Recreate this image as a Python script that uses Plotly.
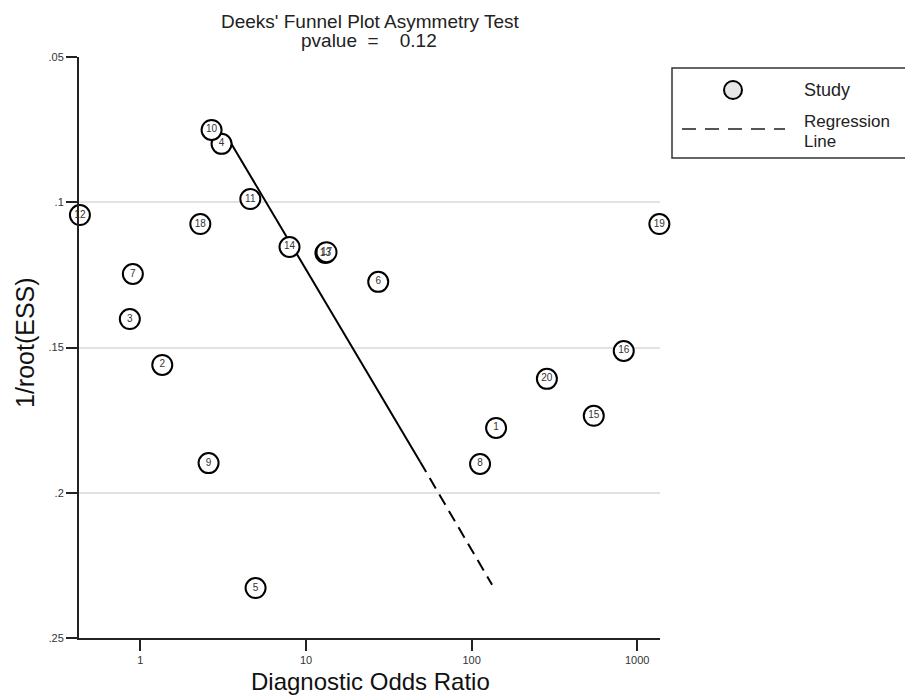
import plotly.graph_objects as go

# ---- data ----
study_ids = ["1", "2", "3", "4", "5", "6", "7", "8", "9", "10",
             "11", "12", "13", "14", "15", "16", "17", "18", "19", "20"]
dor = [140.6, 1.355, 0.863, 3.09, 4.96, 27.3, 0.90, 112.5, 2.58, 2.69,
       4.61, 0.431, 13.1, 7.95, 547, 830, 13.3, 2.30, 1362, 285]
inv_root_ess = [0.1777, 0.1560, 0.1402, 0.0799, 0.2328, 0.1274, 0.1247, 0.1901, 0.1898, 0.0751,
                0.0989, 0.1044, 0.1175, 0.1154, 0.1735, 0.1512, 0.1172, 0.1075, 0.1075, 0.1608]

reg_solid_x = [3.46, 48.9]
reg_solid_y = [0.0789, 0.1893]
reg_dash_x = [48.9, 133]
reg_dash_y = [0.1893, 0.2317]

y_tickvals = [0.05, 0.10, 0.15, 0.20, 0.25]
y_ticktext = [".05", ".1", ".15", ".2", ".25"]
x_tickvals = [1, 10, 100, 1000]
x_ticktext = ["1", "10", "100", "1000"]

title_line1 = "Deeks' Funnel Plot Asymmetry Test"
title_line2 = "pvalue\u00a0\u00a0=\u00a0\u00a0\u00a0 0.12"

FONT = "Liberation Sans, Arial, sans-serif"

# ---- layout geometry (window pixels; the page body adds an 8px offset) ----
OFF = 8
WIN_W, WIN_H = 913, 695
W, H = WIN_W - OFF, WIN_H - OFF
L, R, T, B = 79, 660, 57, 638          # plot area in window pixels
PW, PH = R - L, B - T


def px(xp):
    return (xp - L) / PW


def py(yp):
    return (B - yp) / PH


fig = go.Figure()

fig.add_trace(go.Scatter(
    x=reg_solid_x, y=reg_solid_y, mode="lines",
    line=dict(color="black", width=2), showlegend=False, hoverinfo="skip"))
fig.add_trace(go.Scatter(
    x=reg_dash_x, y=reg_dash_y, mode="lines",
    line=dict(color="black", width=2, dash="12px,7px"), showlegend=False, hoverinfo="skip"))

fig.add_trace(go.Scatter(
    x=dor, y=inv_root_ess, mode="markers+text", text=study_ids,
    textposition="middle center",
    textfont=dict(family=FONT, size=10, color="#333333"),
    marker=dict(size=20, color="white", line=dict(color="black", width=2)),
    cliponaxis=False, showlegend=False))

shapes = [
    # legend box
    dict(type="rect", xref="paper", yref="paper",
         x0=px(672), x1=px(925), y0=py(158), y1=py(68),
         line=dict(color="#333333", width=1.5), fillcolor="rgba(0,0,0,0)"),
    # legend circle
    dict(type="circle", xref="paper", yref="paper", xsizemode="pixel", ysizemode="pixel",
         xanchor=px(733), yanchor=py(90), x0=-9, x1=9, y0=-9, y1=9,
         line=dict(color="black", width=2), fillcolor="#e6e6e6"),
    # legend dashed line
    dict(type="line", xref="paper", yref="paper",
         x0=px(682), x1=px(785), y0=py(129), y1=py(129),
         line=dict(color="#555555", width=2, dash="14px,9px")),
]

annotations = [
    dict(text=title_line1, x=px(370), y=py(21), xref="paper", yref="paper",
         showarrow=False, xanchor="center", yanchor="middle",
         font=dict(family=FONT, size=19, color="#222222")),
    dict(text=title_line2, x=px(369), y=py(41), xref="paper", yref="paper",
         showarrow=False, xanchor="center", yanchor="middle",
         font=dict(family=FONT, size=19, color="#222222")),
    dict(text="Study", x=px(802), y=py(90), xref="paper", yref="paper",
         showarrow=False, xanchor="left", yanchor="middle",
         font=dict(family=FONT, size=18, color="#222222")),
    dict(text="Regression", x=px(802), y=py(121), xref="paper", yref="paper",
         showarrow=False, xanchor="left", yanchor="middle",
         font=dict(family=FONT, size=17, color="#222222")),
    dict(text="Line", x=px(802), y=py(141), xref="paper", yref="paper",
         showarrow=False, xanchor="left", yanchor="middle",
         font=dict(family=FONT, size=17, color="#222222")),
    dict(text="Diagnostic Odds Ratio", x=px(370), y=py(681), xref="paper", yref="paper",
         showarrow=False, xanchor="center", yanchor="middle",
         font=dict(family=FONT, size=24, color="#111111")),
    dict(text="1/root(ESS)", x=px(25), y=py(343), xref="paper", yref="paper",
         showarrow=False, xanchor="center", yanchor="middle", textangle=-90,
         font=dict(family=FONT, size=25, color="#111111")),
]

fig.update_layout(
    width=W, height=H,
    margin=dict(l=L - OFF, r=WIN_W - R, t=T - OFF, b=WIN_H - B, pad=0),
    paper_bgcolor="white", plot_bgcolor="white",
    showlegend=False,
    shapes=shapes, annotations=annotations,
    font=dict(family=FONT),
    xaxis=dict(
        type="log", range=[-0.371, 3.138],
        tickvals=x_tickvals, ticktext=x_ticktext,
        tickfont=dict(family=FONT, size=11, color="#333333"),
        ticks="outside", ticklen=11, tickwidth=2, tickcolor="#222222",
        showline=True, linecolor="#222222", linewidth=2,
        showgrid=False, zeroline=False,
    ),
    yaxis=dict(
        range=[0.25, 0.05],
        tickvals=y_tickvals, ticktext=y_ticktext,
        tickfont=dict(family=FONT, size=11, color="#333333"),
        ticks="outside", ticklen=11, tickwidth=2, tickcolor="#222222",
        showline=True, linecolor="#222222", linewidth=2,
        showgrid=True, gridcolor="#e2e2e2", gridwidth=1.5,
        zeroline=False,
    ),
)

fig.write_html("out.html")
